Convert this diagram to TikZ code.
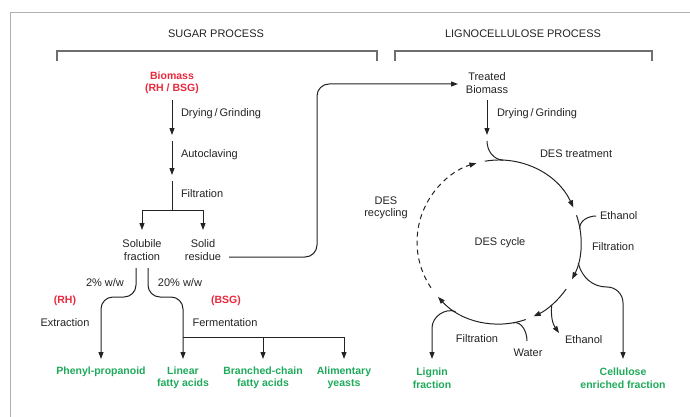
\documentclass[tikz,border=0pt]{standalone}
\usepackage{fontspec}
\setmainfont{Liberation Sans}
\usetikzlibrary{arrows.meta,calc}
\definecolor{grn}{RGB}{30,170,90}
\definecolor{rd}{RGB}{232,40,60}
\definecolor{framegray}{RGB}{175,175,175}
\definecolor{brk}{RGB}{110,110,110}
\definecolor{ln}{RGB}{35,35,35}
\begin{document}
\begin{tikzpicture}[x=1pt,y=1pt,
  every node/.style={inner sep=0pt, outer sep=0pt, align=center, text=ln,
    font=\fontsize{11}{12.5}\selectfont},
  prod/.style={text=grn, font=\bfseries\fontsize{10.5}{12.5}\selectfont},
  src/.style={text=rd, font=\bfseries\fontsize{10.5}{12.5}\selectfont},
  ttl/.style={font=\fontsize{11}{13}\selectfont},
  flow/.style={draw=ln, line width=1pt},
  arr/.style={flow, -{Triangle[length=7pt,width=5pt]}},
  brack/.style={draw=brk, line width=1.3pt},
  recyc/.style={arr, dash pattern=on 5pt off 4pt}
]
\useasboundingbox (0,0) rectangle (690,-417);
\draw[framegray, line width=1pt] (10,-417) -- (10,-13) -- (690,-13);

% titles and brackets
\node[ttl] (tsugar) at (216,-34) {SUGAR PROCESS};
\node[ttl] (tligno) at (523,-34) {LIGNOCELLULOSE PROCESS};
\draw[brack] (57,-61) -- (57,-51) -- (377,-51) -- (377,-61);
\draw[brack] (395,-61) -- (395,-51) -- (652,-51) -- (652,-61);

% ---------- sugar process ----------
\node[src] (bio) at (172,-83) {Biomass\\(RH / BSG)};
\coordinate (a1s) at (172,-100);
\coordinate (a1e) at (172,-135);
\coordinate (a2s) at (172,-141);
\coordinate (a2e) at (172,-175);
\coordinate (a3s) at (172,-181);
\coordinate (sp) at (172,-210);
\coordinate (solin) at (142,-230);
\coordinate (solidin) at (203,-230);
\draw[arr] (a1s) -- (a1e);
\draw[arr] (a2s) -- (a2e);
\draw[flow] (a3s) -- (sp);
\draw[arr] (sp) -| (solin);
\draw[arr] (sp) -| (solidin);
\node[anchor=west] (l1) at (181,-114) {Drying\,/\,Grinding};
\node[anchor=west] (l2) at (181,-155) {Autoclaving};
\node[anchor=west] (l3) at (181,-194) {Filtration};

\node (sol) at (142,-250) {Solubile\\fraction};
\node (solid) at (203,-250) {Solid\\residue};

\node (tb) at (487,-83) {Treated\\Biomass};
\coordinate (srout) at (229,-257);
\coordinate (tbin) at (458,-84);
\draw[arr, rounded corners=12pt] (srout) -- (317,-257) -- (317,-84) -- (tbin);

\node (p2) at (105,-283) {2\% w/w};
\node (p20) at (180,-283) {20\% w/w};
\node[src] (rh) at (65,-301) {(RH)};
\node[src] (bsg) at (226,-301) {(BSG)};
\node (ext) at (65,-323) {Extraction};
\node (ferm) at (225,-323) {Fermentation};

\node[prod] (phen) at (101,-372) {Phenyl-propanoid};
\node[prod] (lin) at (183,-378) {Linear\\fatty acids};
\node[prod] (bra) at (263,-378) {Branched-chain\\fatty acids};
\node[prod] (ali) at (344,-378) {Alimentary\\yeasts};

\coordinate (solout1) at (136,-268);
\coordinate (solout2) at (148,-268);
\coordinate (phenin) at (101,-359);
\coordinate (linin) at (183,-359);
\coordinate (brain) at (263,-359);
\coordinate (aliin) at (344,-359);
\coordinate (fj) at (183,-337);
\draw[arr, rounded corners=12pt] (solout1) -- (136,-297) -- (101,-297) -- (phenin);
\draw[arr, rounded corners=12pt] (solout2) -- (148,-297) -- (183,-297) -- (linin);
\draw[flow] (fj) -- (344,-337);
\draw[arr] (263,-337) -- (brain);
\draw[arr] (344,-337) -- (aliin);

% ---------- lignocellulose process ----------
\coordinate (c) at (499,-242);
\def\R{82}
\coordinate (t1s) at (487,-100);
\coordinate (t1e) at (487,-135);
\coordinate (hk) at (487,-141);
\draw[arr] (t1s) -- (t1e);
\node[anchor=west] (l4) at (497,-114) {Drying\,/\,Grinding};
\draw[flow] (hk) to[out=-90,in=178] ($(c)+(87:\R)$);

% main arcs
\draw[arr] ($(c)+(100:\R)$) arc[start angle=100, end angle=25, radius=\R];
\draw[arr] ($(c)+(19:\R)$) arc[start angle=19, end angle=-27, radius=\R];
\draw[arr] ($(c)+(-35:\R)$) arc[start angle=-35, end angle=-65, radius=\R];
\draw[arr] ($(c)+(-71:\R)$) arc[start angle=-71, end angle=-138, radius=\R];
\draw[recyc] ($(c)+(-146:\R)$) arc[start angle=-146, end angle=-254, radius=\R];

\node (cyc) at (500,-243) {DES cycle};
\node (rec) at (386,-208) {DES\\recycling};
\node[anchor=west] (trt) at (540,-154) {DES treatment};

% ethanol in (right)
\node[anchor=west] (eth1) at (600,-216) {Ethanol};
\coordinate (eth1s) at (596,-216);
\draw[flow] (eth1s) to[out=180,in=100] ($(c)+(9:\R)$);
\node[anchor=west] (fil1) at (592,-247) {Filtration};

% cellulose branch
\node[prod] (cel) at (623,-378) {Cellulose\\enriched fraction};
\coordinate (celin) at (623,-359);
\draw[arr] ($(c)+(-15:\R)$) to[out=-75,in=180] (607,-287) to[out=0,in=90] (623,-303) -- (celin);

% ethanol out
\node[anchor=west] (eth2) at (565,-340) {Ethanol};
\coordinate (eth2in) at (559,-333);
\draw[arr] ($(c)+(-50:\R)$) to[out=-95,in=125] (eth2in);

% water in
\node (wat) at (528,-353) {Water};
\coordinate (wats) at (527,-341);
\draw[flow] (wats) to[out=90,in=10] ($(c)+(-80:\R)$);
\node (fil2) at (477,-339) {Filtration};

% lignin branch
\node[prod] (lig) at (432,-378) {Lignin\\fraction};
\coordinate (ligin) at (432,-359);
\draw[arr] ($(c)+(-122:\R)$) to[out=160,in=90] (432,-328) -- (ligin);
\end{tikzpicture}
\end{document}
